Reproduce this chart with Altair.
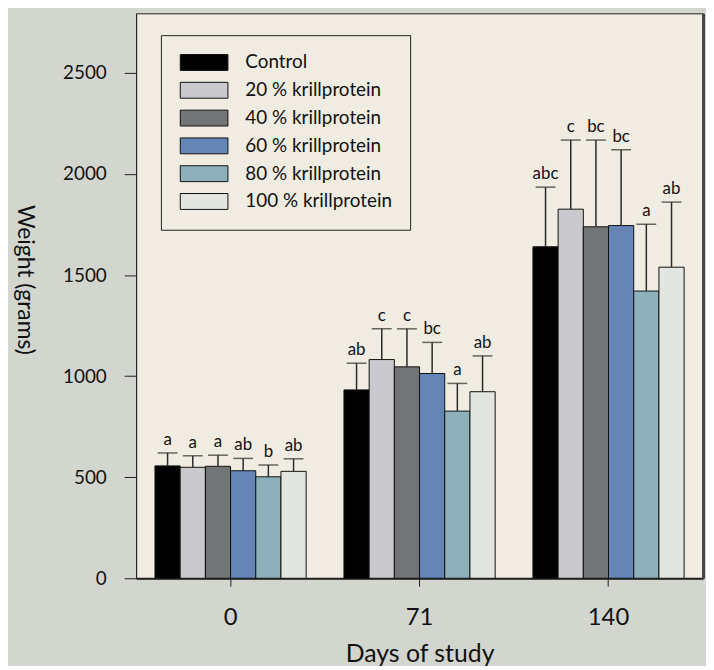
import altair as alt
import pandas as pd

days = ["0", "71", "140"]
groups = ["Control", "20 % krillprotein", "40 % krillprotein",
          "60 % krillprotein", "80 % krillprotein", "100 % krillprotein"]
colors = ["#000000", "#c9c9ce", "#737476", "#6585b6", "#8eb0ba", "#e3e5e1"]

mean_day0 = [556, 549, 554, 532, 502, 529]
mean_day71 = [932, 1082, 1046, 1013, 827, 923]
mean_day140 = [1640, 1826, 1739, 1745, 1421, 1539]

sd_day0 = [64, 57, 55, 61, 58, 62]
sd_day71 = [132, 152, 188, 154, 137, 177]
sd_day140 = [295, 342, 429, 375, 331, 322]

letters_day0 = ["a", "a", "a", "ab", "b", "ab"]
letters_day71 = ["ab", "c", "c", "bc", "a", "ab"]
letters_day140 = ["abc", "c", "bc", "bc", "a", "ab"]

rows = []
for d, ms, ss, ls in zip(days,
                         [mean_day0, mean_day71, mean_day140],
                         [sd_day0, sd_day71, sd_day140],
                         [letters_day0, letters_day71, letters_day140]):
    for g, m, s, l in zip(groups, ms, ss, ls):
        rows.append({"day": d, "group": g, "mean": m, "upper": m + s, "letter": l})
df = pd.DataFrame(rows)

FONT = "Lato"
yscale = alt.Scale(domain=[0, 2795], nice=False, zero=True)
xscale = alt.Scale(paddingInner=0.2, paddingOuter=0.1)
xoscale = alt.Scale(paddingInner=0, paddingOuter=0)

x_axis = alt.Axis(title="Days of study", orient="bottom", labelAngle=0, tickSize=8, tickColor="#222",
                  labelFontSize=24, labelPadding=20, labelColor="#111",
                  titleFontSize=25, titleColor="#111", titleFontWeight="normal",
                  titleY=84, titleBaseline="alphabetic",
                  domainColor="#222", domainWidth=2, labelFont=FONT, titleFont=FONT)
y_axis = alt.Axis(title="Weight (grams)", orient="left", values=[0, 500, 1000, 1500, 2000, 2500],
                  format="d",
                  tickSize=12, tickColor="#222", domainColor="#222", grid=False,
                  labelFontSize=19, labelPadding=18, labelColor="#111", labelFont=FONT,
                  titleFontSize=23, titleColor="#111", titleFontWeight="normal", titleFont=FONT,
                  titleAngle=90, titleX=-112, titleY=268, titleAlign="center",
                  titleBaseline="middle")

X = alt.X("day:N", sort=days, scale=xscale, axis=x_axis)
XO = alt.XOffset("group:N", sort=groups, scale=xoscale)

base = alt.Chart(df)

bars = base.mark_bar(stroke="#111", strokeWidth=1).encode(
    x=X, xOffset=XO,
    y=alt.Y("mean:Q", scale=yscale, axis=y_axis),
    color=alt.Color("group:N", sort=groups,
                    scale=alt.Scale(domain=groups, range=colors),
                    legend=alt.Legend(title=None, orient="none", legendX=25, legendY=22,
                                      fillColor="#f0ece1", strokeColor="#222", padding=18,
                                      symbolType="M-1,-1L5,-1L5,1L-1,1Z", symbolSize=256,
                                      symbolStrokeColor="#111", symbolStrokeWidth=1,
                                      symbolOpacity=1, labelOffset=48, labelFontSize=19,
                                      labelFont=FONT, labelColor="#111", labelLimit=300,
                                      rowPadding=7)),
)

err = base.mark_rule(color="#2b2b2b", strokeWidth=1.5).encode(
    x=X, xOffset=XO,
    y=alt.Y("mean:Q", scale=yscale, axis=None), y2="upper:Q",
)

caps = base.mark_tick(color="#2b2b2b", thickness=1.5, size=20, orient="horizontal").encode(
    x=X, xOffset=XO,
    y=alt.Y("upper:Q", scale=yscale, axis=None),
)

text = base.mark_text(baseline="alphabetic", dy=-8, fontSize=17, font=FONT, color="#111").encode(
    x=X, xOffset=XO,
    y=alt.Y("upper:Q", scale=yscale, axis=None),
    text="letter:N",
)

right = base.mark_rule(opacity=0).encode(
    y=alt.Y("mean:Q", scale=yscale,
            axis=alt.Axis(orient="right", labels=False, ticks=False, title=None,
                          grid=False, domainColor="#444", domainWidth=3)),
)

chart = alt.layer(bars, err, caps, text, right).properties(
    width=571, height=569,
    autosize=alt.AutoSizeParams(type="none"),
    padding={"left": 129, "top": 3, "right": 3, "bottom": 86},
    background="#d2d6cf",
).configure_view(fill="#f0ece1", stroke="#222", strokeWidth=1)

chart.save("out.html", embed_options={"renderer": "svg", "actions": False})
